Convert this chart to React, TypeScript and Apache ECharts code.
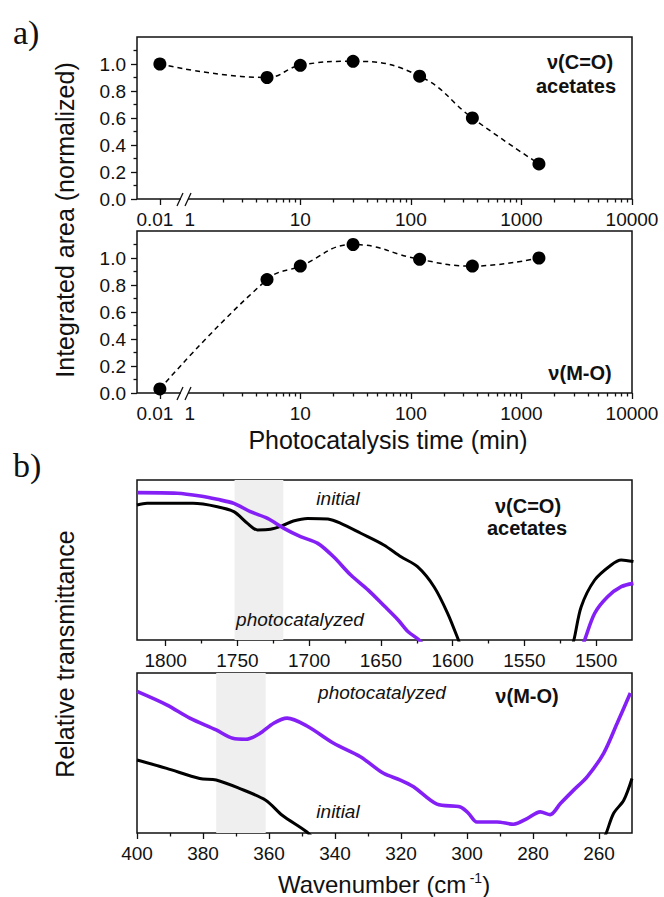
import React, { useEffect, useRef } from "react";
import * as echarts from "echarts";

// ---------- a) integrated areas ----------
const timeMin = [0.01, 5, 10, 30, 120, 360, 1440];
const areaCO = [1.0, 0.9, 0.99, 1.02, 0.91, 0.6, 0.26];
const areaMO = [0.03, 0.84, 0.94, 1.1, 0.99, 0.94, 1.0];
const timeTickValues = [0.01, 1, 10, 100, 1000, 10000];
const timeTickLabels = ["0.01", "1", "10", "100", "1000", "10000"];
const areaTickValues = [0, 0.2, 0.4, 0.6, 0.8, 1.0];
const areaMinorValues = [0.1, 0.3, 0.5, 0.7, 0.9, 1.1];

// ---------- b) spectra (null = gap, curve leaves the frame) ----------
const coInitialWn = [1820, 1813, 1781, 1764, 1752.5, 1743, 1736, 1727, 1719, 1711, 1701, 1687, 1678, 1664, 1648, 1636, 1624.5, 1613, 1603.5, 1596, 1592, null, 1519, 1515.5, 1510.4, 1501, 1489.5, 1482.5, 1474];
const coInitialVal = [84.4, 85.4, 85.4, 83.3, 80.2, 72.9, 68.8, 69.2, 71.3, 74.4, 76, 75.6, 72.9, 66.7, 59.4, 52, 45.8, 33.3, 16.7, 0, -10, null, -10, 0, 20.8, 37.5, 46.9, 50, 49];
const coPhotoWn = [1820, 1792, 1776, 1764, 1752.5, 1741, 1729, 1717.6, 1706, 1694, 1683, 1671, 1659, 1648, 1638, 1631, 1623.4, 1619, null, 1512, 1508, 1501, 1492, 1482.5, 1474];
const coPhotoVal = [92.1, 91.7, 90, 87.9, 85.4, 80.2, 76, 69.8, 64.6, 60.4, 52, 40.6, 31.3, 21.5, 12.5, 5.2, 0, -5, null, -10, 0, 16.7, 27, 33.3, 35.4];
const moPhotoWn = [400, 391, 384, 376, 371, 367, 363, 358.6, 354.5, 348.5, 340.4, 332.3, 325.3, 320.2, 316.2, 309.1, 302, 299.5, 297, 290.9, 285.9, 281.8, 277.8, 274.8, 271.7, 267.7, 263.6, 258.6, 254.5, 250.5];
const moPhotoVal = [88.5, 80.1, 71.8, 64.4, 59.2, 58.6, 61.9, 68.6, 71.8, 66.9, 56.1, 47.7, 37.3, 33.1, 28.9, 18, 16.3, 12.2, 6.9, 6.9, 5.5, 9, 13.2, 11.5, 18.4, 26.8, 35.1, 49.8, 68.6, 87.5];
const moInitialWn = [400, 391, 381, 376, 369, 361, 356, 348.5, 346, null, 259, 257.8, 255.6, 252.5, 250];
const moInitialVal = [45.6, 40.4, 34.1, 33.1, 27.9, 20.5, 11.1, 0.6, -5, null, -5, 0, 12.2, 20.5, 34.1];
const coBand = [1752, 1718];
const moBand = [376, 361];
const coTicks = [1800, 1750, 1700, 1650, 1600, 1550, 1500];
const coMinor = [1775, 1725, 1675, 1625, 1575, 1525];
const moTicks = [400, 380, 360, 340, 320, 300, 280, 260];
const moMinor = [390, 370, 350, 330, 310, 290, 270];

const FONT = 'Arial, "Liberation Sans", Helvetica, sans-serif';
const SERIF = '"Liberation Serif", "Times New Roman", Times, serif';
const INK = "#111";
const PURPLE = "#8420f5";

const A_MIN = -0.477;
const LOW_POS = -0.27; // where 0.01 sits left of the axis break
const xPos = (t: number) => (t >= 1 ? Math.log10(t) : LOW_POS);
const majorPos = timeTickValues.map(xPos);
const minorPos: number[] = [];
for (let d = 0; d < 4; d++) for (let k = 2; k <= 9; k++) minorPos.push(d + Math.log10(k));

const timeLabel = (v: number) => {
  let best = 0;
  majorPos.forEach((p, i) => {
    if (Math.abs(p - v) < Math.abs(majorPos[best] - v)) best = i;
  });
  return best === 0 ? "{l|" + timeTickLabels[best] + "}" : "{n|" + timeTickLabels[best] + "}";
};

function segments(wn: (number | null)[], val: (number | null)[]) {
  const out: number[][][] = [];
  let cur: number[][] = [];
  wn.forEach((w, i) => {
    const v = val[i];
    if (w === null || v === null) {
      if (cur.length) out.push(cur);
      cur = [];
    } else cur.push([w, v]);
  });
  if (cur.length) out.push(cur);
  return out;
}

const labelStyle = { fontSize: 19, color: INK, fontFamily: FONT };
const noLine = { show: false, onZero: false };

function xMajor(gridIndex: number, min: number, max: number, inverse: boolean, ticks: number[], labels: number[], formatter?: any) {
  return {
    gridIndex, type: "value", position: "bottom", min, max, inverse,
    axisLine: noLine, splitLine: { show: false },
    axisTick: { show: true, customValues: ticks, length: 6, lineStyle: { color: INK, width: 1.3 } },
    axisLabel: {
      show: true, customValues: labels, margin: 11, ...labelStyle,
      formatter: formatter || ((v: number) => String(v)),
      rich: {
        l: { ...labelStyle, padding: [0, 10, 0, 0] },
        n: { ...labelStyle },
      },
    },
  };
}
function xMinor(gridIndex: number, min: number, max: number, inverse: boolean, ticks: number[]) {
  return {
    gridIndex, type: "value", position: "bottom", min, max, inverse,
    axisLine: noLine, splitLine: { show: false },
    axisTick: { show: true, customValues: ticks, length: 3.5, lineStyle: { color: INK, width: 1.3 } },
    axisLabel: { show: false },
  };
}
function yArea(gridIndex: number, minor: boolean) {
  return {
    gridIndex, type: "value", position: "left", min: 0, max: 1.2,
    axisLine: noLine, splitLine: { show: false },
    axisTick: { show: true, customValues: minor ? areaMinorValues : areaTickValues, length: minor ? 3.5 : 6, lineStyle: { color: INK, width: 1.3 } },
    axisLabel: minor
      ? { show: false }
      : { show: true, customValues: areaTickValues, margin: 11, ...labelStyle, formatter: (v: number) => v.toFixed(1) },
  };
}
function yPlain(gridIndex: number) {
  return {
    gridIndex, type: "value", position: "left", min: 0, max: 100,
    axisLine: noLine, splitLine: { show: false }, axisTick: { show: false }, axisLabel: { show: false },
  };
}

function areaSeries(x: number, y: number, vals: number[]) {
  return {
    type: "line", xAxisIndex: x, yAxisIndex: y, clip: false,
    data: timeMin.map((t, i) => [xPos(t), vals[i]]),
    smooth: 0.45, symbol: "circle", symbolSize: 13,
    itemStyle: { color: "#000" },
    lineStyle: { color: "#000", width: 1.5, type: [5, 4] },
    z: 3,
  };
}
function specSeries(x: number, y: number, wn: (number | null)[], val: (number | null)[], color: string, width: number) {
  return segments(wn, val).map((seg) => ({
    type: "line", xAxisIndex: x, yAxisIndex: y, data: seg, smooth: 0.3,
    symbol: "none", lineStyle: { color, width }, z: 3,
  }));
}
function bandSeries(x: number, y: number, band: number[]) {
  return {
    type: "line", xAxisIndex: x, yAxisIndex: y, data: [], z: 1, silent: true,
    markArea: { silent: true, itemStyle: { color: "#efefef" }, data: [[{ xAxis: band[0] }, { xAxis: band[1] }]] },
  };
}

function txt(text: string, x: number, y: number, font: string, extra: any = {}) {
  return { type: "text", x, y, z: 100, style: { text, font, fill: INK, align: "center", verticalAlign: "middle", ...extra } };
}
function breakMark(y: number) {
  return [
    { type: "rect", z: 100, shape: { x: 181, y: y - 2.5, width: 7, height: 5 }, style: { fill: "#fff" } },
    { type: "line", z: 101, shape: { x1: 177, y1: y + 7, x2: 183, y2: y - 6 }, style: { stroke: INK, lineWidth: 1.3 } },
    { type: "line", z: 101, shape: { x1: 185, y1: y + 7, x2: 191, y2: y - 6 }, style: { stroke: INK, lineWidth: 1.3 } },
  ];
}

const gridBase = { left: 137, width: 495, show: true, borderColor: INK, borderWidth: 1.5, backgroundColor: "transparent" };

const option = {
  animation: false,
  backgroundColor: "#fff",
  grid: [
    { ...gridBase, top: 37, height: 162 },
    { ...gridBase, top: 231, height: 162 },
    { ...gridBase, top: 480, height: 160 },
    { ...gridBase, top: 673, height: 160 },
  ],
  xAxis: [
    xMajor(0, A_MIN, 4, false, majorPos.filter((_, i) => i !== 1), majorPos, timeLabel),
    xMinor(0, A_MIN, 4, false, minorPos),
    xMajor(1, A_MIN, 4, false, majorPos.filter((_, i) => i !== 1), majorPos, timeLabel),
    xMinor(1, A_MIN, 4, false, minorPos),
    xMajor(2, 1475, 1820, true, coTicks, coTicks),
    xMinor(2, 1475, 1820, true, coMinor),
    xMajor(3, 250, 400, true, moTicks, moTicks),
    xMinor(3, 250, 400, true, moMinor),
  ],
  yAxis: [yArea(0, false), yArea(0, true), yArea(1, false), yArea(1, true), yPlain(2), yPlain(3)],
  series: [
    areaSeries(0, 0, areaCO),
    areaSeries(2, 2, areaMO),
    bandSeries(4, 4, coBand),
    ...specSeries(4, 4, coInitialWn, coInitialVal, "#000", 3),
    ...specSeries(4, 4, coPhotoWn, coPhotoVal, PURPLE, 3.6),
    bandSeries(6, 5, moBand),
    ...specSeries(6, 5, moInitialWn, moInitialVal, "#000", 3),
    ...specSeries(6, 5, moPhotoWn, moPhotoVal, PURPLE, 3.6),
  ],
  graphic: [
    txt("a)", 13, 32, `34px ${SERIF}`, { align: "left" }),
    txt("b)", 13, 465, `34px ${SERIF}`, { align: "left" }),
    { ...txt("Integrated area (normalized)", 65, 220, `25px ${FONT}`), rotation: Math.PI / 2 },
    { ...txt("Relative transmittance", 65, 654, `25px ${FONT}`), rotation: Math.PI / 2 },
    txt("Photocatalysis time (min)", 388, 440, `25px ${FONT}`),
    {
      type: "text", x: 384, y: 884, z: 100,
      style: {
        text: "{n|Wavenumber (cm} {s|-1}{n|)}", align: "center", verticalAlign: "middle",
        rich: {
          n: { font: `24px ${FONT}`, fill: INK, lineHeight: 26 },
          s: { font: `14px ${FONT}`, fill: INK, verticalAlign: "top", lineHeight: 26 },
        },
      },
    },
    txt("ν(C=O)", 580, 62, `bold 20px ${FONT}`),
    txt("acetates", 576, 86, `bold 20px ${FONT}`),
    txt("ν(M-O)", 580, 373, `bold 20px ${FONT}`),
    txt("initial", 338, 498, `italic 19px ${FONT}`),
    txt("photocatalyzed", 300, 619, `italic 19px ${FONT}`),
    txt("ν(C=O)", 528, 506, `bold 20px ${FONT}`),
    txt("acetates", 527, 528, `bold 20px ${FONT}`),
    txt("photocatalyzed", 382, 692, `italic 19px ${FONT}`),
    txt("ν(M-O)", 527, 696, `bold 20px ${FONT}`),
    txt("initial", 338, 811, `italic 19px ${FONT}`),
    ...breakMark(199),
    ...breakMark(393),
  ],
};

export default function App() {
  const ref = useRef<HTMLDivElement>(null);
  useEffect(() => {
    const chart = echarts.init(ref.current!, null, { renderer: "svg" });
    chart.setOption(option as any);
    return () => chart.dispose();
  }, []);
  return (
    <div
      ref={ref}
      style={{ position: "absolute", left: 0, top: 0, width: 664, height: 897, background: "#fff" }}
    />
  );
}
